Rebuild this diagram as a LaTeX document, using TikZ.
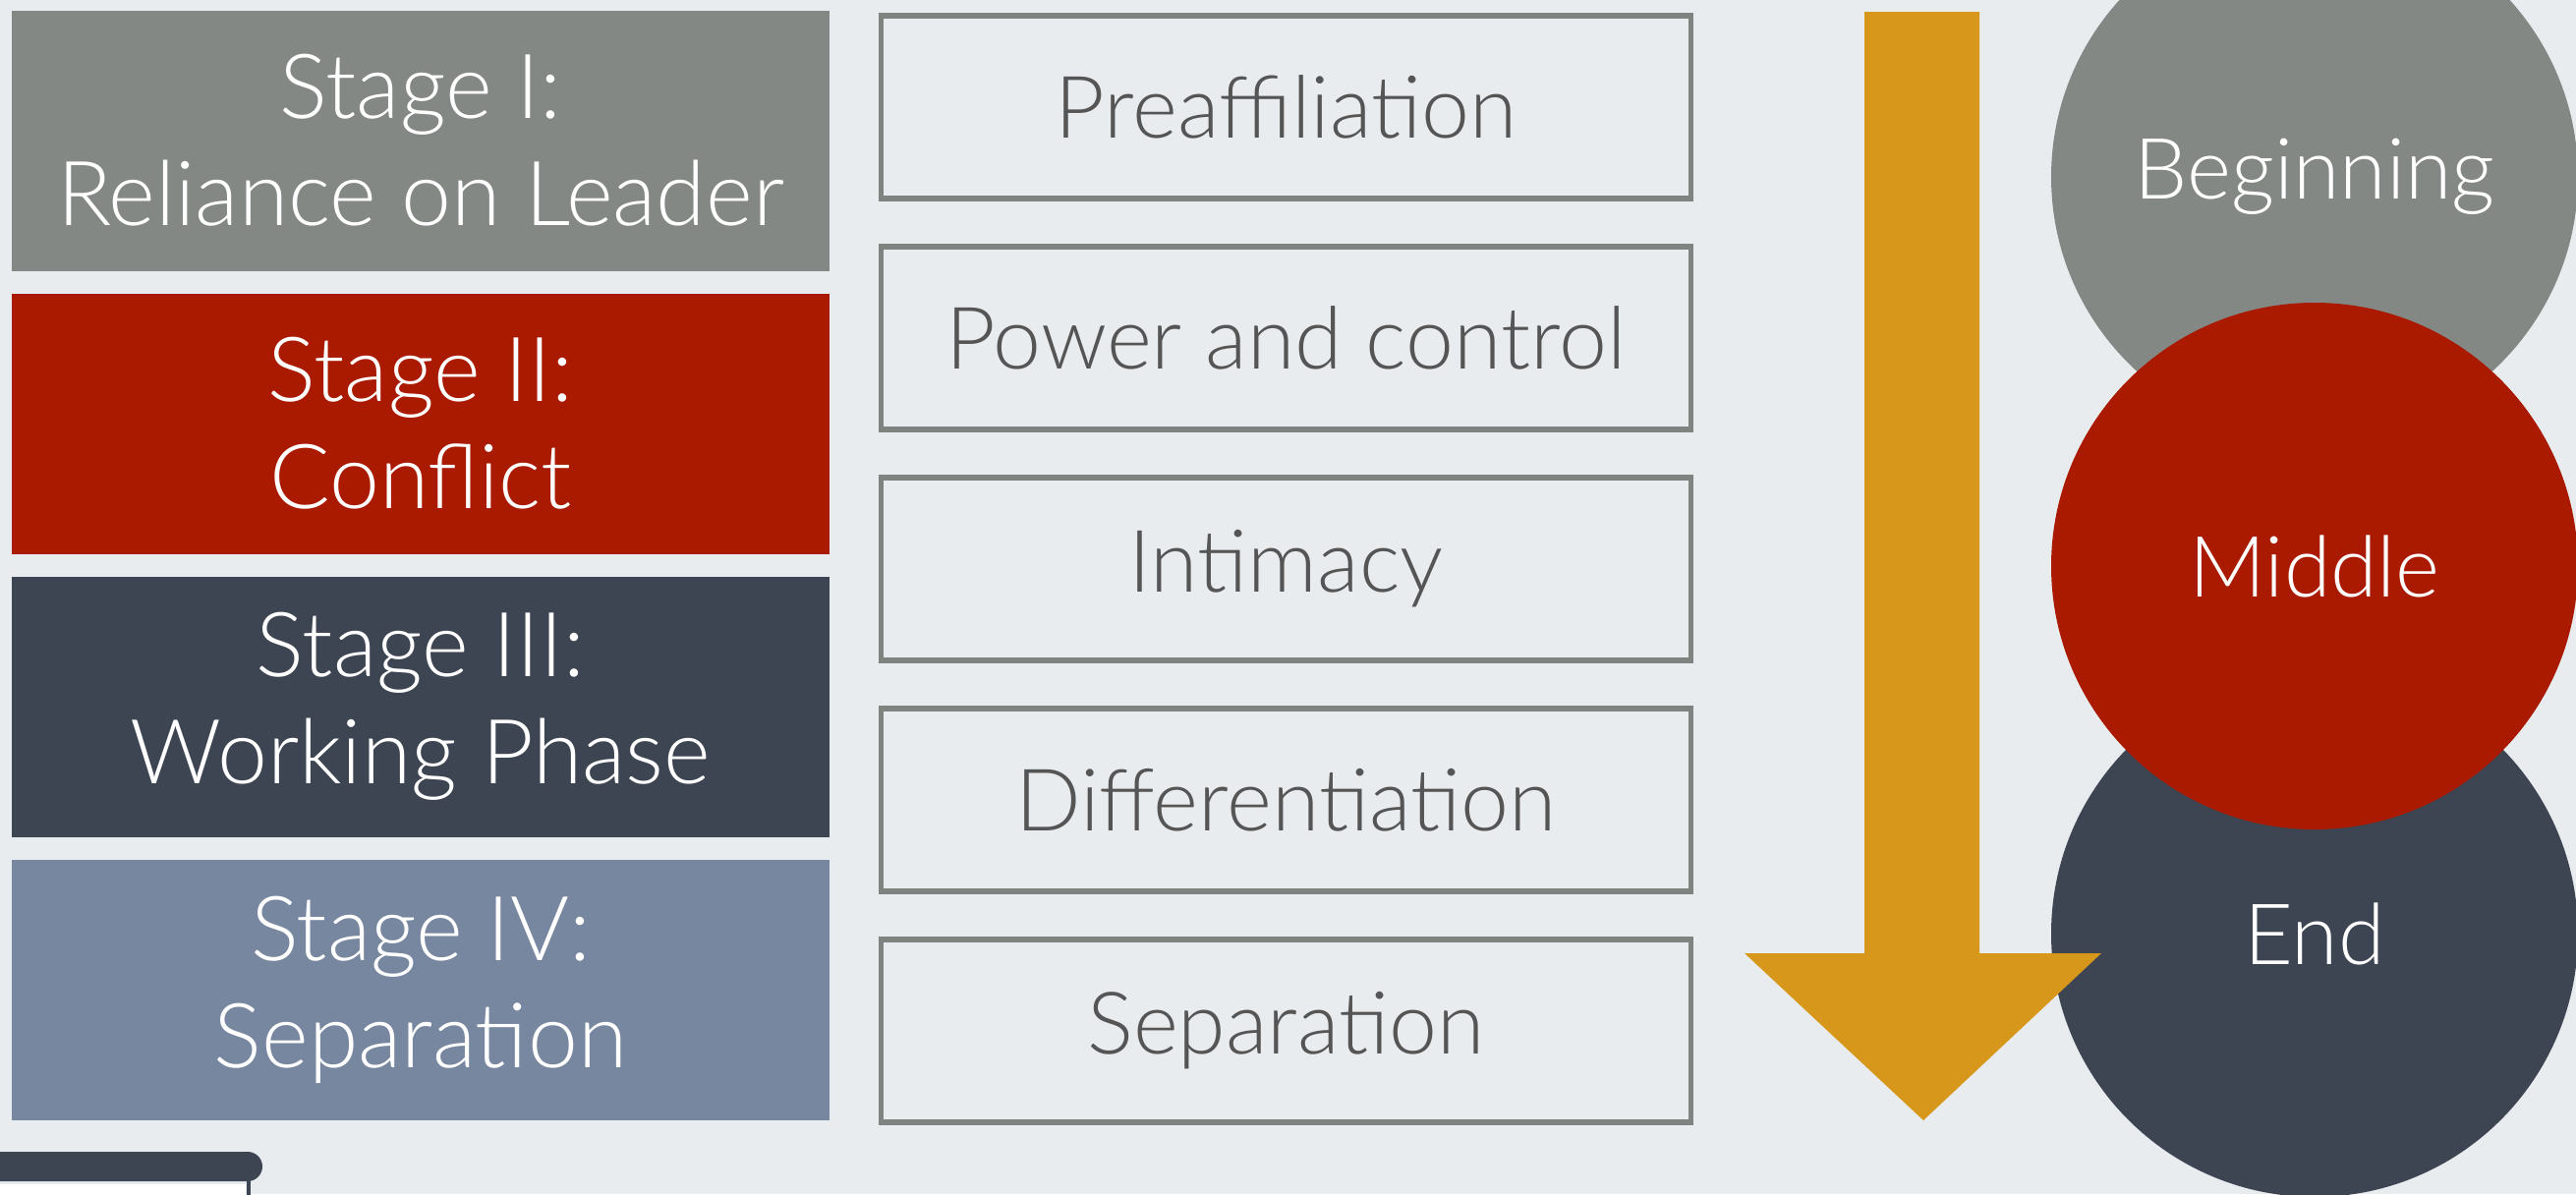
\documentclass[tikz,border=0pt]{standalone}
\usepackage{fontspec}
\setmainfont{Lato}[UprightFont=* Light]
\usetikzlibrary{shapes.geometric, positioning}

\definecolor{bgcol}{HTML}{E9ECEF}
\definecolor{stagegray}{HTML}{838885}
\definecolor{stagered}{HTML}{A91A00}
\definecolor{stagedark}{HTML}{3D4452}
\definecolor{stageblue}{HTML}{77879F}
\definecolor{arrowgold}{HTML}{D7971B}
\definecolor{framegray}{HTML}{808481}
\definecolor{textgray}{HTML}{555555}

\tikzstyle{stage} = [rectangle, minimum width=8.32cm, minimum height=2.65cm, inner sep=0pt, align=center, text=white, font=\fontsize{26}{31}\selectfont]
\tikzstyle{phase} = [rectangle, minimum width=8.24cm, minimum height=1.86cm, inner sep=0pt, text centered, draw=framegray, line width=1.6pt, text=textgray, font=\fontsize{25}{30}\selectfont]
\tikzstyle{part} = [circle, minimum size=5.36cm, inner sep=0pt, text=white, font=\fontsize{24.5}{30}\selectfont]

\begin{document}
\begin{tikzpicture}[node distance=2.88cm]

\useasboundingbox (0,0) rectangle (26.21,-12.15);
\clip (0,0) rectangle (26.21,-12.15);
\fill[bgcol] (0,0) rectangle (26.21,-12.15);

\node (stage1) [stage, fill=stagegray] at (4.28,-1.43) {Stage I:\\Reliance on Leader};
\node (stage2) [stage, fill=stagered, below of=stage1] {Stage II:\\Conflict};
\node (stage3) [stage, fill=stagedark, below of=stage2] {Stage III:\\Working Phase};
\node (stage4) [stage, fill=stageblue, below of=stage3] {Stage IV:\\Separation};

\node (preaff) [phase] at (13.085,-1.09) {Preaffiliation};
\node (power) [phase, node distance=2.35cm, below of=preaff] {Power and control};
\node (intimacy) [phase, node distance=2.35cm, below of=power] {Intimacy};
\node (diff) [phase, node distance=2.35cm, below of=intimacy] {Differentiation};
\node (separ) [phase, node distance=2.35cm, below of=diff] {Separation};

\node (beginning) [part, fill=stagegray] at (23.55,-1.80) {Beginning};
\node (end) [part, fill=stagedark] at (23.55,-9.50) {End};
\node (middle) [part, fill=stagered, node distance=3.96cm, below of=beginning] {Middle};

\fill[arrowgold] (18.97,-0.12) -- (20.14,-0.12) -- (20.14,-9.70) -- (21.38,-9.70)
  -- (19.57,-11.40) -- (17.75,-9.70) -- (18.97,-9.70) -- cycle;

% cut-off bar bottom left
\fill[stagedark, rounded corners=0.15cm] (-0.5,-11.72) rectangle (2.67,-12.02);
\fill[white] (-0.1,-12.05) rectangle (2.50,-12.3);
\draw[stagedark, line width=1.4pt] (2.53,-12.0) -- (2.53,-12.3);

\end{tikzpicture}
\end{document}
